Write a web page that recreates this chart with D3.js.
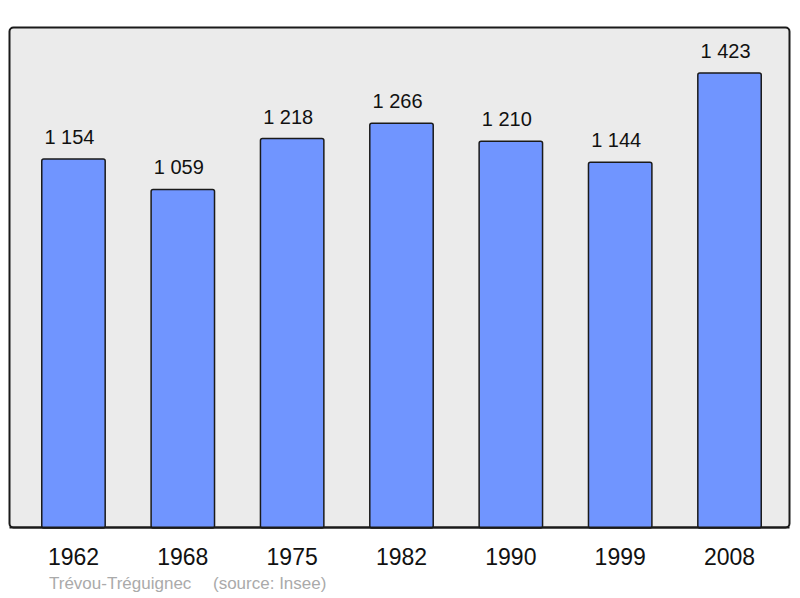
<!DOCTYPE html>
<html>
<head>
<meta charset="utf-8">
<script src="https://cdn.jsdelivr.net/npm/d3@7"></script>
<style>
  body { margin: 0; background: #fff; }
  text { font-family: "Liberation Sans", Arial, sans-serif; }
</style>
</head>
<body>
<svg width="800" height="598"></svg>
<script>
const years = ["1962", "1968", "1975", "1982", "1990", "1999", "2008"];
const population = [1154, 1059, 1218, 1266, 1210, 1144, 1423];
const commune = "Trévou-Tréguignec";
const source = "(source: Insee)";

const svg = d3.select("svg");
const fmt = v => d3.format(",")(v).replace(",", " ");

// panel
svg.append("rect")
    .attr("x", 9.5).attr("y", 27.5)
    .attr("width", 780).attr("height", 500)
    .attr("rx", 4)
    .attr("fill", "#ebebeb")
    .attr("stroke", "#1a1a1a")
    .attr("stroke-width", 2);

const x = d3.scaleBand()
    .domain(years)
    .range([18.8, 784.2])
    .paddingInner(0.42)
    .paddingOuter(0.21);

const y = d3.scaleLinear()
    .domain([0, 1567])
    .range([528, 27]);

const data = years.map((yr, i) => ({ year: yr, value: population[i] }));

svg.selectAll("rect.bar")
    .data(data)
    .join("rect")
    .attr("class", "bar")
    .attr("x", d => x(d.year))
    .attr("y", d => y(d.value))
    .attr("width", x.bandwidth())
    .attr("height", d => y(0) - y(d.value))
    .attr("rx", 2)
    .attr("fill", "#7095ff")
    .attr("stroke", "#1a1a1a")
    .attr("stroke-width", 1.5);

// redraw bottom border over bars
svg.append("line")
    .attr("x1", 9.5).attr("x2", 789.5)
    .attr("y1", 527.5).attr("y2", 527.5)
    .attr("stroke", "#1a1a1a")
    .attr("stroke-width", 2);

// value labels sit a little left of the bar centre, as in the original
svg.selectAll("text.val")
    .data(data)
    .join("text")
    .attr("class", "val")
    .attr("x", d => x(d.year) + x.bandwidth() / 2 - 4)
    .attr("y", d => y(d.value) - 15)
    .attr("text-anchor", "middle")
    .attr("font-size", 20)
    .attr("fill", "#111")
    .text(d => fmt(d.value));

const xAxis = svg.append("g")
    .attr("transform", "translate(0,528)")
    .call(d3.axisBottom(x).tickSize(0).tickPadding(0));
xAxis.select(".domain").remove();
xAxis.selectAll("text")
    .attr("y", 37)
    .attr("dy", null)
    .attr("font-size", 23)
    .attr("font-family", "Liberation Sans, Arial, sans-serif")
    .attr("fill", "#111");

svg.append("text")
    .attr("x", 49).attr("y", 589)
    .attr("font-size", 17)
    .attr("fill", "#aaaaaa")
    .text(commune);

svg.append("text")
    .attr("x", 213).attr("y", 589)
    .attr("font-size", 17)
    .attr("fill", "#aaaaaa")
    .text(source);
</script>
</body>
</html>
